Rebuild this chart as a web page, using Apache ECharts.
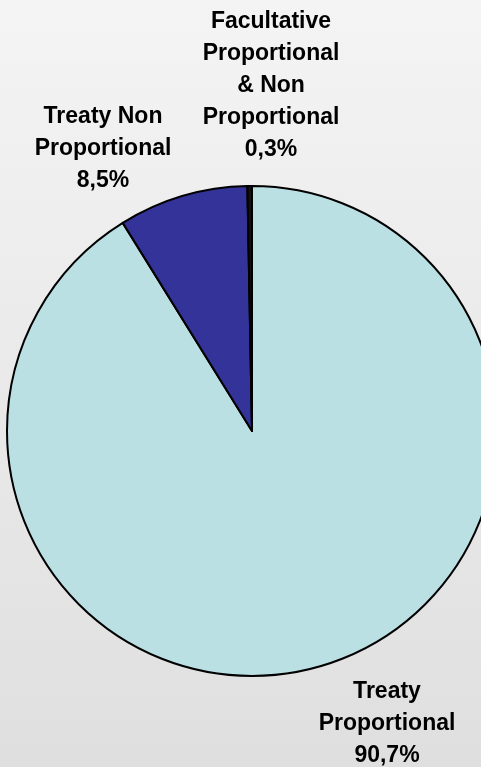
<!DOCTYPE html>
<html>
<head>
<meta charset="utf-8">
<script src="https://cdn.jsdelivr.net/npm/echarts@6/dist/echarts.min.js"></script>
<style>
  html, body { margin: 0; padding: 0; }
  #chart { width: 481px; height: 767px; }
</style>
</head>
<body>
<div id="chart"></div>
<script>
// Reinsurance premium split by contract type (share in %)
const categories = [
  'Treaty\nProportional',
  'Treaty Non\nProportional',
  'Facultative\nProportional\n& Non\nProportional'
];
const shares = [90.7, 8.5, 0.3];
const sliceColors = ['#bae0e3', '#333399', '#111111'];
// label anchor points (block centres) for each slice
const labelAnchors = [[387, 724], [103, 149], [271, 85.5]];

const chart = echarts.init(document.getElementById('chart'), null, { renderer: 'canvas' });

const option = {
  animation: false,
  backgroundColor: {
    type: 'linear', x: 0, y: 0, x2: 0, y2: 1,
    colorStops: [
      { offset: 0, color: '#f4f4f4' },
      { offset: 1, color: '#dfdfdf' }
    ]
  },
  series: [{
    type: 'pie',
    center: [252, 431],
    radius: 245,
    startAngle: 90,
    clockwise: true,
    avoidLabelOverlap: false,
    data: categories.map((name, i) => ({
      name: name,
      value: shares[i],
      itemStyle: { color: sliceColors[i] }
    })),
    itemStyle: { borderColor: '#000000', borderWidth: 2 },
    label: {
      show: true,
      position: 'outside',
      fontFamily: 'Liberation Sans, Arial, sans-serif',
      fontWeight: 'bold',
      fontSize: 23,
      lineHeight: 32,
      color: '#000000',
      align: 'center',
      formatter: p => p.name + '\n' + p.value.toFixed(1).replace('.', ',') + '%'
    },
    labelLine: { show: false },
    labelLayout: params => ({
      x: labelAnchors[params.dataIndex][0],
      y: labelAnchors[params.dataIndex][1],
      align: 'center',
      verticalAlign: 'middle'
    }),
    emphasis: { disabled: true }
  }]
};

chart.setOption(option);
</script>
</body>
</html>
